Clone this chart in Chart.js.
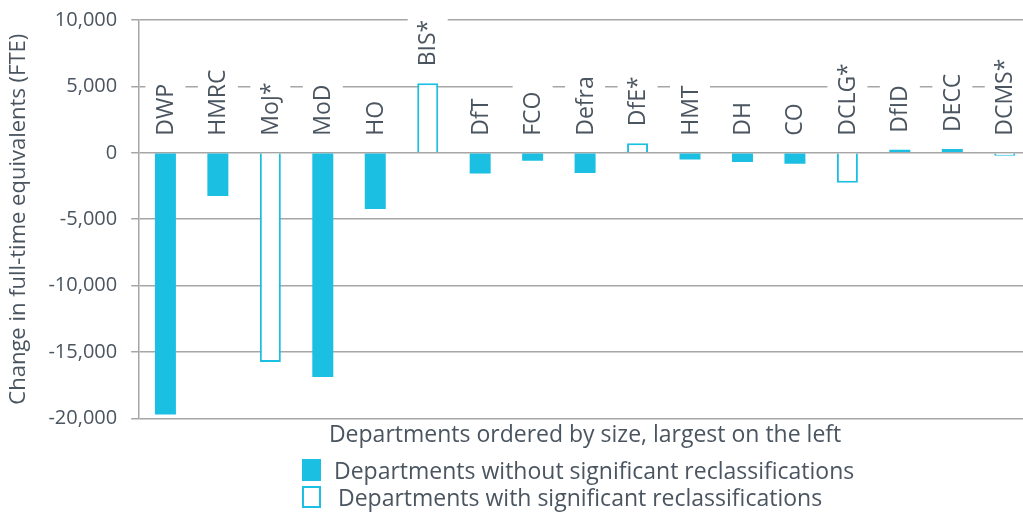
<!DOCTYPE html>
<html>
<head>
<meta charset="utf-8">
<script src="https://cdn.jsdelivr.net/npm/chart.js@4/dist/chart.umd.min.js"></script>
<style>
  html, body { margin: 0; padding: 0; background: #fff; overflow: hidden; }
  #wrap { position: relative; width: 1023px; height: 514px; overflow: hidden; }
  #leyenda { position: absolute; left: 302px; top: 456px; font-family: "Open Sans", sans-serif; font-size: 23px; color: #4a5560; }
  .item { display: flex; align-items: center; height: 27px; white-space: nowrap; }
  .caja { width: 19px; height: 22px; margin-right: 13px; box-sizing: border-box; }
</style>
</head>
<body>
<div id="wrap">
  <canvas id="chartPlantilla" width="1040" height="514"></canvas>
  <div id="leyenda">
    <div class="item"><span class="caja" style="background:#1bbfe2"></span>Departments without significant reclassifications</div>
    <div class="item"><span class="caja" style="border:2px solid #1bbfe2;background:#fff;margin-right:17px"></span>Departments with significant reclassifications</div>
  </div>
</div>
<script>
const departamentos = ['DWP', 'HMRC', 'MoJ*', 'MoD', 'HO', 'BIS*', 'DfT', 'FCO', 'Defra', 'DfE*', 'HMT', 'DH', 'CO', 'DCLG*', 'DfID', 'DECC', 'DCMS*'];
const cambioFTE = [-19700, -3250, -15750, -16880, -4230, 5230, -1560, -600, -1530, 720, -500, -700, -830, -2260, 150, 280, -100];
const reclasificado = [false, false, true, false, false, true, false, false, false, true, false, false, false, true, false, false, true];
const ticksY = [10000, 5000, 0, -5000, -10000, -15000, -20000];

const CYAN = '#1bbfe2';
const TEXTO = '#4a5560';
const GRIS = '#a6a6a6';

// etiquetas verticales sobre cada barra, con fondo blanco que tapa la rejilla
const etiquetasPlugin = {
    id: 'etiquetas',
    afterDatasetsDraw(chart) {
        const ctx = chart.ctx;
        const meta = chart.getDatasetMeta(0);
        const zeroY = chart.scales.y.getPixelForValue(0);
        ctx.save();
        ctx.font = '23px "Open Sans"';
        meta.data.forEach((bar, i) => {
            const topY = Math.min(zeroY, bar.y);
            const baseY = topY - 17;
            const w = ctx.measureText(departamentos[i]).width;
            ctx.save();
            ctx.translate(bar.x, baseY);
            ctx.rotate(-Math.PI / 2);
            ctx.fillStyle = '#fff';
            ctx.fillRect(-3, -20, w + 10, 40);
            ctx.fillStyle = TEXTO;
            ctx.textAlign = 'left';
            ctx.textBaseline = 'middle';
            ctx.fillText(departamentos[i], 0, 1);
            ctx.restore();
        });
        ctx.restore();
    }
};

const canvas = document.getElementById('chartPlantilla');
const context = canvas.getContext('2d');

const chartPlantilla = new Chart(context, {
    type: 'bar',
    data: {
        labels: departamentos,
        datasets: [{
            data: cambioFTE,
            backgroundColor: reclasificado.map(r => r ? '#ffffff' : CYAN),
            borderColor: CYAN,
            borderWidth: reclasificado.map(r => r ? 2 : 0),
            barPercentage: 0.4,
            categoryPercentage: 1,
            minBarLength: 3
        }]
    },
    options: {
        responsive: false,
        animation: false,
        layout: { padding: { top: 20, right: 9, bottom: 60, left: 6 } },
        plugins: {
            legend: { display: false },
            tooltip: { enabled: false }
        },
        scales: {
            x: {
                grid: { display: false },
                border: { display: false },
                ticks: { display: false },
                title: {
                    display: true,
                    text: 'Departments ordered by size, largest on the left',
                    color: TEXTO,
                    font: { family: 'Open Sans', size: 23 },
                    padding: { top: -5, bottom: 5 }
                }
            },
            y: {
                min: -20000,
                max: 10000,
                afterBuildTicks: (axis) => { axis.ticks = ticksY.map(v => ({ value: v })); },
                afterFit: (axis) => { axis.paddingTop = 0; axis.paddingBottom = 0; },
                grid: { color: GRIS, lineWidth: 1.5, tickLength: 8, tickColor: GRIS },
                border: { color: GRIS, width: 1.5 },
                ticks: {
                    color: TEXTO,
                    font: { family: 'Open Sans', size: 20 },
                    padding: 14,
                    callback: (v) => v.toLocaleString('en-US')
                },
                title: {
                    display: true,
                    text: 'Change in full-time equivalents (FTE)',
                    color: TEXTO,
                    font: { family: 'Open Sans', size: 22 },
                    padding: { top: 0, bottom: 2 }
                }
            }
        }
    },
    plugins: [etiquetasPlugin]
});
</script>
</body>
</html>
